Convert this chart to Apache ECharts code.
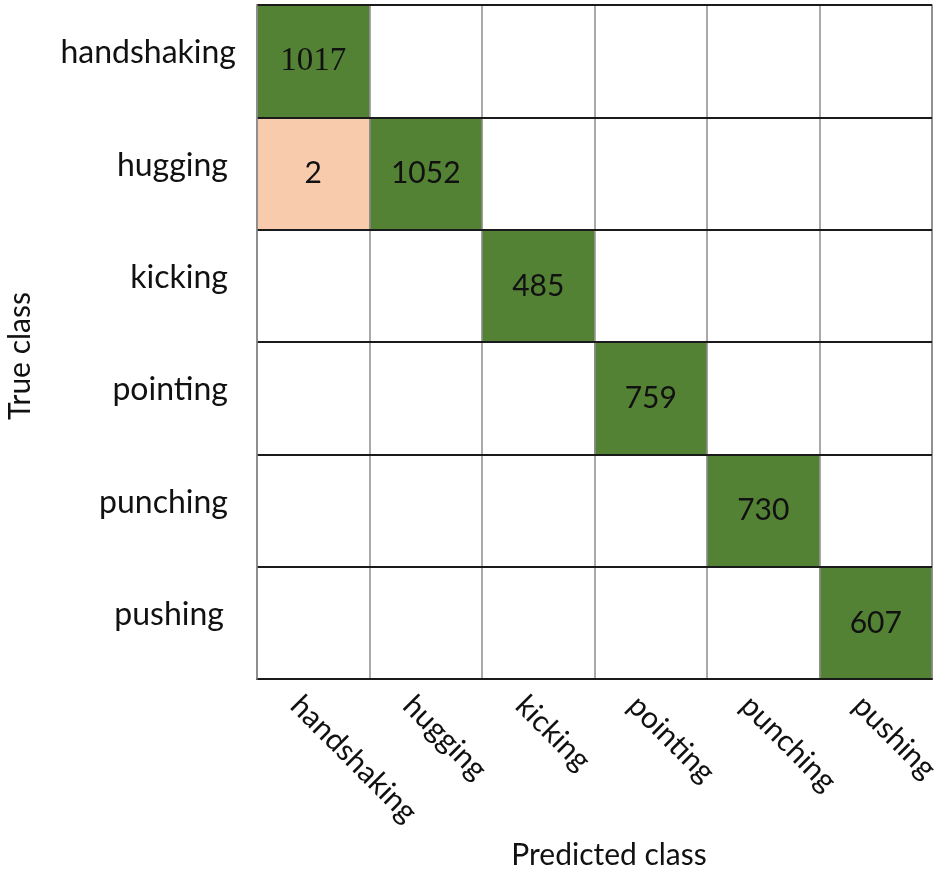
<!DOCTYPE html>
<html>
<head>
<meta charset="utf-8">
<script src="https://cdn.jsdelivr.net/npm/echarts@6/dist/echarts.min.js"></script>
<style>
html,body{margin:0;padding:0;background:#fff;}
#chart{width:950px;height:871px;}
</style>
</head>
<body>
<div id="chart"></div>
<script>
// Class labels (used for both axes)
const classes = ['handshaking', 'hugging', 'kicking', 'pointing', 'punching', 'pushing'];
// Confusion matrix: rows = true class, columns = predicted class
const row_handshaking = [1017, 0, 0, 0, 0, 0];
const row_hugging     = [2, 1052, 0, 0, 0, 0];
const row_kicking     = [0, 0, 485, 0, 0, 0];
const row_pointing    = [0, 0, 0, 759, 0, 0];
const row_punching    = [0, 0, 0, 0, 730, 0];
const row_pushing     = [0, 0, 0, 0, 0, 607];
const matrix = [row_handshaking, row_hugging, row_kicking, row_pointing, row_punching, row_pushing];

const xTitle = 'Predicted class';
const yTitle = 'True class';

const GREEN = '#548235';
const PEACH = '#F8CBAD';
const SANS = 'Lato, "Open Sans", sans-serif';
const SERIF = '"Liberation Serif", "DejaVu Serif", serif';

const data = [];
matrix.forEach(function (row, r) {
  row.forEach(function (v, c) {
    if (v > 0) {
      const serif = (r === 0 && c === 0);
      data.push({
        value: [c, r, v],
        itemStyle: { color: r === c ? GREEN : PEACH },
        label: { fontFamily: serif ? SERIF : SANS, fontSize: serif ? 33 : 30 }
      });
    }
  });
});

const yRich = {
  w: { fontFamily: SANS, fontSize: 32, color: '#111', lineHeight: 16, padding: [0, 0, 0, 0] },
  n: { fontFamily: SANS, fontSize: 32, color: '#111', lineHeight: 16, padding: [0, 8, 0, 0] },
  e: { fontFamily: SANS, fontSize: 32, color: '#111', lineHeight: 16, padding: [0, 12, 0, 0] }
};

const chart = echarts.init(document.getElementById('chart'));
chart.setOption({
  backgroundColor: '#ffffff',
  animation: false,
  grid: {
    left: 257, top: 5, right: 18, bottom: 192,
    containLabel: false,
    outerBoundsMode: 'none',
    show: true, borderColor: '#8c8c8c', borderWidth: 1.5
  },
  xAxis: {
    type: 'category',
    data: classes,
    z: 10,
    axisLine: { show: true, lineStyle: { color: '#222', width: 2 } },
    axisTick: { show: false },
    splitLine: { show: true, lineStyle: { color: '#8c8c8c', width: 1.5 } },
    axisLabel: {
      interval: 0,
      rotate: -45,
      margin: 4,
      verticalAlign: 'top',
      lineHeight: 50,
      color: '#111',
      fontFamily: SANS,
      fontSize: 30
    }
  },
  yAxis: {
    type: 'category',
    data: classes,
    inverse: true,
    z: 11,
    axisLine: { show: true, lineStyle: { color: '#8c8c8c', width: 1.5 } },
    axisTick: { show: false },
    splitLine: { show: true, lineStyle: { color: '#1a1a1a', width: 2 } },
    axisLabel: {
      interval: 0,
      margin: 21,
      verticalAlign: 'bottom',
      lineHeight: 16,
      color: '#111',
      fontFamily: SANS,
      fontSize: 32,
      formatter: function (v, i) {
        const key = i === 0 ? 'w' : (i === classes.length - 1 ? 'e' : 'n');
        return '{' + key + '|' + v + '}';
      },
      rich: yRich
    }
  },
  series: [{
    type: 'heatmap',
    data: data,
    label: {
      show: true,
      color: '#111',
      fontSize: 30,
      fontFamily: SANS
    },
    itemStyle: { borderWidth: 0 },
    emphasis: { disabled: true }
  }],
  graphic: [
    {
      type: 'text',
      x: 609, y: 855,
      style: {
        text: xTitle, fill: '#111', font: '30px ' + SANS,
        align: 'center', verticalAlign: 'middle'
      }
    },
    {
      type: 'text',
      x: 20, y: 356,
      rotation: Math.PI / 2,
      style: {
        text: yTitle, fill: '#111', font: '30px ' + SANS,
        align: 'center', verticalAlign: 'middle'
      }
    }
  ]
});
</script>
</body>
</html>
